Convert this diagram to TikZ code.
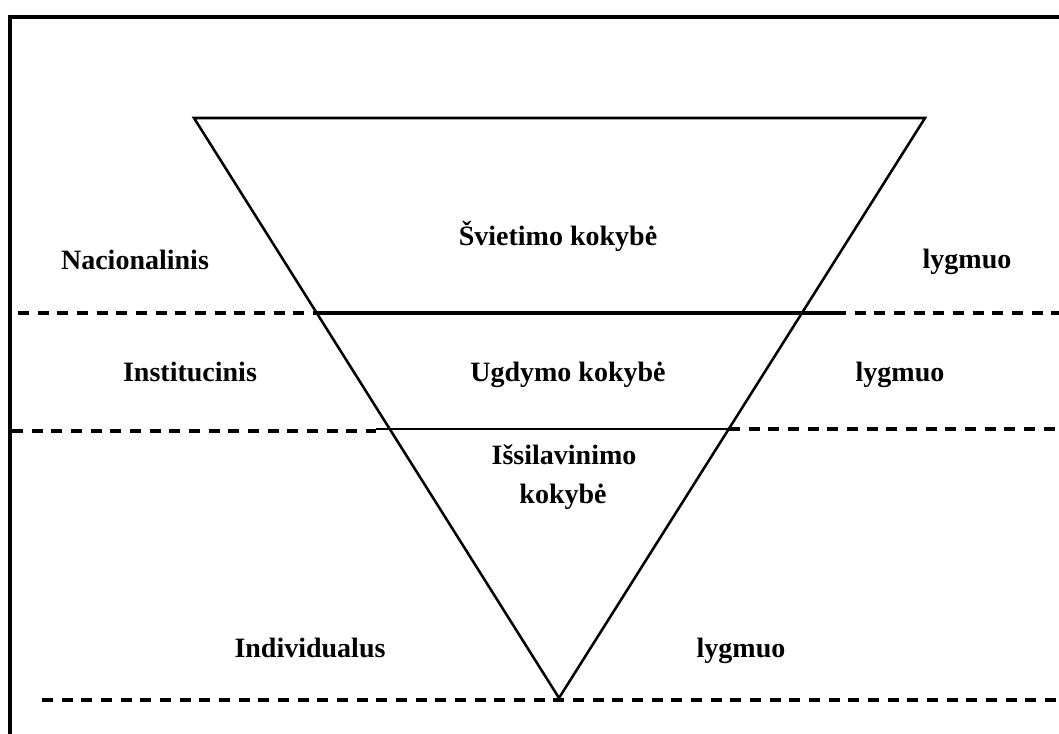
\documentclass[tikz,border=0pt]{standalone}
\usepackage{fontspec}
\setmainfont{Liberation Serif}

\begin{document}
\begin{tikzpicture}[
    x=0.75pt, y=-0.75pt,
    txt/.style={font=\fontsize{21}{25}\selectfont\bfseries, anchor=base, inner sep=0pt},
    side/.style={line width=1.9pt},
    lvl/.style={line width=2.4pt, dash pattern=on 8.25pt off 6.5pt},
    rim/.style={line width=3.2pt}
]
    \useasboundingbox (0,0) rectangle (1059,734);

    % frame
    \draw[rim] (10,760) -- (10,17) -- (1080,17);

    % pyramid
    \coordinate (tl) at (194,118);
    \coordinate (tr) at (925,118);
    \coordinate (apex) at (559,698);
    \draw[side, line join=miter] (tl) -- (tr) -- (apex) -- cycle;

    % level lines
    \coordinate (a1) at (18,313);
    \coordinate (a2) at (317,313);
    \coordinate (a3) at (835,313);
    \coordinate (a4) at (1059,313);
    \draw[lvl] (a1) -- (a2);
    \draw[line width=3.2pt] (a2) -- (a3);
    \draw[lvl] (a3) -- (a4);

    \coordinate (b1) at (12,431);
    \coordinate (b2) at (376,431);
    \coordinate (b3) at (376,429);
    \coordinate (b4) at (729,429);
    \coordinate (b5) at (1059,429);
    \draw[lvl] (b1) -- (b2);
    \draw[side] (b3) -- (b4);
    \draw[lvl] (b4) -- (b5);

    \coordinate (c1) at (42,700);
    \coordinate (c2) at (1059,700);
    \draw[lvl] (c1) -- (c2);

    % texts
    \node[txt] (svietimas) at (558,245) {Švietimo kokybė};
    \node[txt] (nacional) at (135,269) {Nacionalinis};
    \node[txt] (lygis1) at (967,268) {lygmuo};

    \node[txt] (ugdymas) at (568,381) {Ugdymo kokybė};
    \node[txt] (instit) at (190,381) {Institucinis};
    \node[txt] (lygis2) at (900,381) {lygmuo};

    \node[txt] (issilav) at (564,464) {Išsilavinimo};
    \node[txt] (issilav2) at (563,503) {kokybė};

    \node[txt] (individ) at (310,657) {Individualus};
    \node[txt] (lygis3) at (741,657) {lygmuo};
\end{tikzpicture}
\end{document}
